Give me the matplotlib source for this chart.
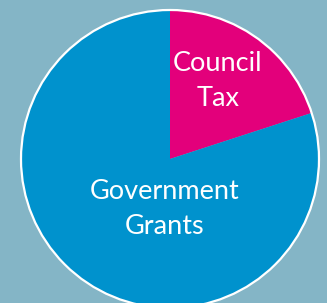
import matplotlib
matplotlib.use("Agg")
import matplotlib.pyplot as plt
from matplotlib.patches import Circle

categories = ["Council\nTax", "Government\nGrants"]
values = [20, 80]
colors = ["#e3007b", "#0092cd"]
bg = "#84b5c6"

W, H = 327, 303
fig = plt.figure(figsize=(W / 100, H / 100), dpi=100, facecolor=bg)
ax = fig.add_axes([0, 0, 1, 1])
ax.set_facecolor(bg)

cx, cy, r = 170, H - 159, 149
ax.pie(values, colors=colors, startangle=90, counterclock=False,
       radius=r, center=(cx, cy), wedgeprops=dict(linewidth=0))
ax.add_patch(Circle((cx, cy), r, fill=False, edgecolor="white", linewidth=1.6, zorder=5))

ax.text(218, H - 81, categories[0], color="white", fontsize=19.5, family="Lato",
        ha="center", va="center", linespacing=1.5)
ax.text(165, H - 209, categories[1], color="white", fontsize=19.5, family="Lato",
        ha="center", va="center", linespacing=1.5)

ax.set_xlim(0, W)
ax.set_ylim(0, H)
ax.set_aspect("equal")
ax.axis("off")
fig.savefig("out.png", dpi=100, facecolor=bg)
